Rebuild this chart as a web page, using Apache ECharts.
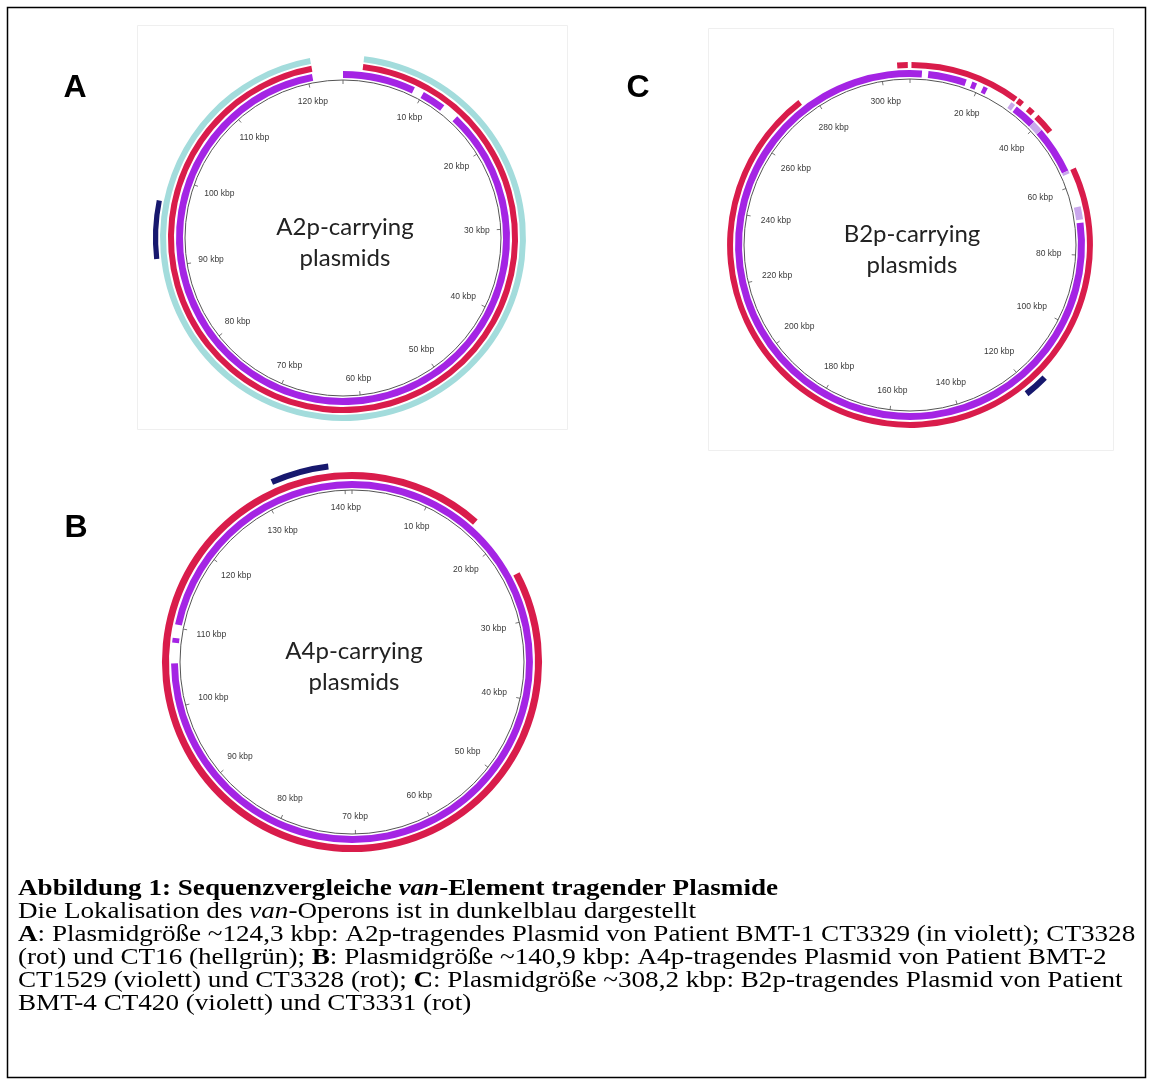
<!DOCTYPE html>
<html><head><meta charset="utf-8">
<script src="https://cdn.jsdelivr.net/npm/echarts@6/dist/echarts.min.js"></script>
<style>html,body{margin:0;padding:0;background:#fff}#c{width:1152px;height:1081px}</style>
</head><body><div id="c"></div>
<script>
// ---------------- DATA (kbp) ----------------
const sizeA = 124.3, sizeB = 140.9, sizeC = 308.2;
const ticksA = [10, 20, 30, 40, 50, 60, 70, 80, 90, 100, 110, 120];
const ticksB = [10, 20, 30, 40, 50, 60, 70, 80, 90, 100, 110, 120, 130, 140];
const ticksC = [20, 40, 60, 80, 100, 120, 140, 160, 180, 200, 220, 240, 260, 280, 300];

// A: CT3329 (violett), CT3328 (rot), CT16 (hellgrün), van-Operon (dunkelblau)
const violettA = [[0, 8.8], [10.0, 12.9], [14.9, 120.6]];
const rotA = [[2.3, 120.7]];
const hellgruenA = [[2.3, 120.7]];
const vanA = [[91.0, 97.2]];

// B: CT1529 (violett), CT3328 (rot)   (end < start = wraps through 0)
const violettB = [[0, 105.5], [108.1, 108.7], [110.4, 140.9]];
const rotB = [[24.2, 16.2]];
const vanB = [[131.5, 138.2]];

// C: CT420 (violett), CT3331 (rot)
const violettC = [[70.7, 3.4], [5.2, 16.2], [17.9, 19.3], [21.3, 22.6], [32.2, 38.7], [41.8, 55.5]];
const hellviolettC = [[30.3, 31.6], [38.7, 41.8], [55.5, 56.3], [66.1, 69.8]];
const rotC = [[304.7, 307.6], [0.4, 30.8], [31.4, 33.0], [35.0, 36.8], [38.2, 43.7], [55.6, 276.0]];
const vanC = [[115.2, 121.5]];

// ---------------- STYLE / LAYOUT ----------------
const VIOLET = '#A424E4', RED = '#D91C4B', TEAL = '#A3DCDC', NAVY = '#17186E', LVIOLET = '#C9A6EC';
const panels = [
  { center: [343, 238], r: 158, size: sizeA, interval: 10, ticks: ticksA, labelR: 93.7, title: 'A2p-carrying\nplasmids',
    tracks: [
      { data: violettA, r: [101.3, 105.7], color: VIOLET },
      { data: rotA, r: [107.0, 110.8], color: RED },
      { data: hellgruenA, r: [112.0, 115.8], color: TEAL },
      { data: vanA, r: [117.0, 120.3], color: NAVY }
    ] },
  { center: [352, 662], r: 172, size: sizeB, interval: 10, ticks: ticksB, labelR: 93.0, title: 'A4p-carrying\nplasmids',
    tracks: [
      { data: violettB, r: [101.2, 105.2], color: VIOLET },
      { data: rotB, r: [106.4, 110.5], color: RED },
      { data: vanB, r: [112.8, 116.3], color: NAVY }
    ] },
  { center: [910, 245], r: 166, size: sizeC, interval: 20, ticks: ticksC, labelR: 92.2, title: 'B2p-carrying\nplasmids',
    tracks: [
      { data: violettC, r: [101.2, 105.4], color: VIOLET },
      { data: hellviolettC, r: [101.2, 105.4], color: LVIOLET },
      { data: rotC, r: [106.6, 110.2], color: RED },
      { data: vanC, r: [112.0, 115.7], color: NAVY }
    ] }
];

function arcRenderer(rIn, rOut, color) {
  return function (params, api) {
    const cs = params.coordSys, cx = cs.cx, cy = cs.cy;
    const s = api.value(0), e = api.value(1);
    const ps = api.coord([rOut, s]), pe = api.coord([rOut, e]), pin = api.coord([rIn, s]);
    let a1 = Math.atan2(ps[1] - cy, ps[0] - cx);
    let a2 = Math.atan2(pe[1] - cy, pe[0] - cx);
    if (a2 <= a1) a2 += Math.PI * 2;
    const R = Math.hypot(ps[0] - cx, ps[1] - cy), R0 = Math.hypot(pin[0] - cx, pin[1] - cy);
    return { type: 'sector', shape: { cx: cx, cy: cy, r0: R0, r: R, startAngle: a1, endAngle: a2, clockwise: true },
      style: { fill: color } };
  };
}
function labelRenderer(rAnchor, fontSize) {
  return function (params, api) {
    const cs = params.coordSys;
    const v = api.value(0);
    const p = api.coord([rAnchor, v]);
    const dx = p[0] - cs.cx, dy = p[1] - cs.cy, R = Math.hypot(dx, dy);
    const ux = dx / R, uy = dy / R;
    const txt = v + ' kbp';
    const hw = txt.length * fontSize * 0.27, hh = fontSize * 0.55;
    const inset = hw * Math.abs(ux) + hh * Math.abs(uy);
    return { type: 'text', style: { text: txt, x: p[0] - ux * inset, y: p[1] - uy * inset, align: 'center', verticalAlign: 'middle',
      fontSize: fontSize, fontFamily: 'Liberation Sans', fill: '#3a3a3a' } };
  };
}

const series = [];
panels.forEach(function (p, i) {
  p.tracks.forEach(function (t) {
    series.push({ type: 'custom', coordinateSystem: 'polar', polarIndex: i, silent: true, animation: false,
      data: t.data, renderItem: arcRenderer(t.r[0], t.r[1], t.color) });
  });
  series.push({ type: 'custom', coordinateSystem: 'polar', polarIndex: i, silent: true, animation: false,
    data: p.ticks.map(function (v) { return [v]; }), renderItem: labelRenderer(p.labelR, 8.5) });
});

const CAP_FS = 24;
const serifBase = { fontSize: CAP_FS, fontFamily: 'Liberation Serif', fill: '#000' };
function rich() {
  return {
    b: { fontSize: CAP_FS, fontFamily: 'Liberation Serif', fontWeight: 'bold', fill: '#000' },
    bi: { fontSize: CAP_FS, fontFamily: 'Liberation Serif', fontWeight: 'bold', fontStyle: 'italic', fill: '#000' },
    i: { fontSize: CAP_FS, fontFamily: 'Liberation Serif', fontStyle: 'italic', fill: '#000' },
    n: { fontSize: CAP_FS, fontFamily: 'Liberation Serif', fill: '#000' }
  };
}
const captionLines = [
  '{b|Abbildung 1: Sequenzvergleiche }{bi|van}{b|-Element tragender Plasmide}',
  '{n|Die Lokalisation des }{i|van}{n|-Operons ist in dunkelblau dargestellt}',
  '{b|A}{n|: Plasmidgröße ~124,3 kbp: A2p-tragendes Plasmid von Patient BMT-1 CT3329 (in violett); CT3328}',
  '{n|(rot) und CT16 (hellgrün); }{b|B}{n|: Plasmidgröße ~140,9 kbp: A4p-tragendes Plasmid von Patient BMT-2}',
  '{n|CT1529 (violett) und CT3328 (rot); }{b|C}{n|: Plasmidgröße ~308,2 kbp: B2p-tragendes Plasmid von Patient}',
  '{n|BMT-4 CT420 (violett) und CT3331 (rot)}'
];
const graphic = [
  { type: 'rect', shape: { x: 7.5, y: 7.5, width: 1138, height: 1070 }, style: { fill: 'none', stroke: '#000', lineWidth: 1.5 } },
  { type: 'rect', shape: { x: 137.5, y: 25.5, width: 430, height: 404 }, style: { fill: 'none', stroke: '#efefef', lineWidth: 1 } },
  { type: 'rect', shape: { x: 708.5, y: 28.5, width: 405, height: 422 }, style: { fill: 'none', stroke: '#efefef', lineWidth: 1 } },
  { type: 'text', style: { text: 'A', x: 75, y: 88, align: 'center', verticalAlign: 'middle', fontSize: 32, fontWeight: 'bold', fontFamily: 'Liberation Sans', fill: '#000' } },
  { type: 'text', style: { text: 'B', x: 76, y: 528, align: 'center', verticalAlign: 'middle', fontSize: 32, fontWeight: 'bold', fontFamily: 'Liberation Sans', fill: '#000' } },
  { type: 'text', style: { text: 'C', x: 638, y: 88, align: 'center', verticalAlign: 'middle', fontSize: 32, fontWeight: 'bold', fontFamily: 'Liberation Sans', fill: '#000' } }
];
panels.forEach(function (p) {
  graphic.push({ type: 'text', style: { text: p.title, x: p.center[0] + 2, y: p.center[1] + 5, align: 'center', verticalAlign: 'middle',
    fontSize: 24, lineHeight: 31, fontFamily: 'Lato', fill: '#222' } });
});
captionLines.forEach(function (t, k) {
  graphic.push({ type: 'text', x: 18, y: 889 + 23 * k, scaleX: 1.13,
    style: Object.assign({}, serifBase, { text: t, x: 0, y: 0, verticalAlign: 'middle', rich: rich() }) });
});

const chart = echarts.init(document.getElementById('c'), null, { renderer: 'canvas' });
chart.setOption({
  backgroundColor: '#fff',
  animation: false,
  polar: panels.map(function (p) { return { center: p.center, radius: [0, p.r] }; }),
  angleAxis: panels.map(function (p, i) {
    return { polarIndex: i, type: 'value', min: 0, max: p.size, interval: p.interval, startAngle: 90, clockwise: true,
      axisLine: { show: true, lineStyle: { color: '#555', width: 1 } },
      axisTick: { show: true, inside: true, length: 4, lineStyle: { color: '#777', width: 1 } },
      axisLabel: { show: false }, splitLine: { show: false }, splitArea: { show: false } };
  }),
  radiusAxis: panels.map(function (p, i) {
    return { polarIndex: i, type: 'value', min: 0, max: 100, axisLine: { show: false }, axisTick: { show: false },
      axisLabel: { show: false }, splitLine: { show: false }, splitArea: { show: false } };
  }),
  series: series,
  graphic: graphic
});
</script></body></html>
